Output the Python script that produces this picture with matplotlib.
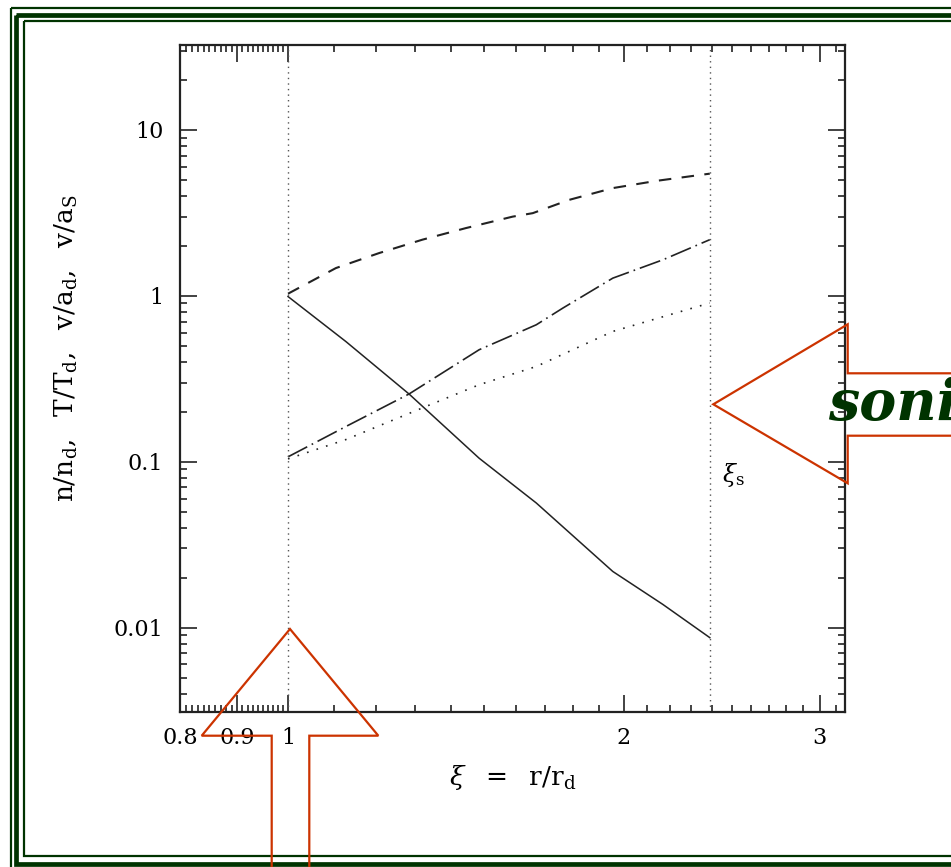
import numpy as np
import matplotlib
matplotlib.use('Agg')
import matplotlib.pyplot as plt
from matplotlib.patches import Rectangle, Polygon
from matplotlib.ticker import FixedLocator, FixedFormatter

# profiles (xi = r/r_d)
xi_n = [1.0, 1.127, 1.284, 1.484, 1.670, 1.956, 2.169, 2.39]
n_nd = [0.99, 0.53, 0.256, 0.105, 0.0564, 0.0218, 0.0138, 0.0087]

xi_T = [1.0, 1.104, 1.207, 1.320, 1.444, 1.590, 1.658, 1.788, 1.956, 2.140, 2.39]
T_Td = [1.03, 1.47, 1.81, 2.18, 2.56, 3.00, 3.15, 3.79, 4.46, 4.93, 5.45]

xi_vd = [1.0, 1.127, 1.284, 1.484, 1.670, 1.764, 1.956, 2.169, 2.39]
v_ad = [0.107, 0.163, 0.256, 0.473, 0.669, 0.843, 1.278, 1.648, 2.18]

xi_vs = [1.0, 1.127, 1.320, 1.484, 1.670, 1.956, 2.39]
v_as = [0.104, 0.136, 0.211, 0.291, 0.375, 0.610, 0.905]

xi_d = 1.0     # inner boundary
xi_s = 2.39    # sonic point

xticks = [0.8, 0.9, 1, 2, 3]
xticklabels = ['0.8', '0.9', '1', '2', '3']
yticks = [0.01, 0.1, 1, 10]
yticklabels = ['0.01', '0.1', '1', '10']

plt.rcParams['font.family'] = 'DejaVu Serif'
plt.rcParams['mathtext.fontset'] = 'dejavuserif'

W, H = 951, 867
fig = plt.figure(figsize=(W / 100, H / 100), dpi=100)
ax = fig.add_axes([180 / W, 1 - 712 / H, 665 / W, 667 / H])

ax.set_xscale('log')
ax.set_yscale('log')
ax.set_xlim(0.8, 3.16)
ax.set_ylim(0.0031, 32.5)

ax.plot(xi_n, n_nd, color='#222222', lw=1.1, ls='-')
ax.plot(xi_T, T_Td, color='#222222', lw=1.5, ls=(0, (6, 5)))
ax.plot(xi_vd, v_ad, color='#222222', lw=1.2, ls=(0, (13, 3, 1, 3)))
ax.plot(xi_vs, v_as, color='#222222', lw=1.2, ls=(0, (1, 5)))

for xv in (xi_d, xi_s):
    ax.axvline(xv, color='#555555', lw=1.0, ls=(0, (1, 3)))

ax.text(2.45, 0.083, r'$\xi_{\rm s}$', fontsize=17, ha='left', va='center')

ax.xaxis.set_major_locator(FixedLocator(xticks))
ax.xaxis.set_major_formatter(FixedFormatter(xticklabels))
xminor = [x for x in np.round(np.arange(0.81, 1.0, 0.01), 2) if x != 0.9]
xminor += [x for x in np.round(np.arange(1.1, 3.2, 0.1), 1) if x not in (2.0, 3.0)]
ax.xaxis.set_minor_locator(FixedLocator(xminor))
ax.xaxis.set_minor_formatter(FixedFormatter([''] * len(xminor)))

ax.yaxis.set_major_locator(FixedLocator(yticks))
ax.yaxis.set_major_formatter(FixedFormatter(yticklabels))
yminor = [m * 10.0 ** e for e in range(-3, 2) for m in range(2, 10)]
ax.yaxis.set_minor_locator(FixedLocator(yminor))
ax.yaxis.set_minor_formatter(FixedFormatter([''] * len(yminor)))

ax.tick_params(which='both', direction='in', top=True, right=True,
               labelsize=16, width=1.2, color='#222222')
ax.tick_params(which='major', length=12)
ax.tick_params(which='minor', length=5)
ax.tick_params(axis='x', which='major', pad=11)
ax.tick_params(axis='y', which='major', pad=12)
for s in ax.spines.values():
    s.set_linewidth(1.6)
    s.set_color('#222222')

ax.set_xlabel(r'$\xi\ \ =\ \ \mathrm{r/r_d}$', fontsize=19, labelpad=10)
ax.set_ylabel(r'$\mathrm{n/n_d,\ \ T/T_d,\ \ v/a_d,\ \ v/a_S}$', fontsize=19)
ax.yaxis.set_label_coords(-0.15, 0.545)

# overlay in pixel coordinates: slide frame, arrows, caption
ov = fig.add_axes([0, 0, 1, 1], zorder=5)
ov.set_xlim(0, W)
ov.set_ylim(H, 0)
ov.axis('off')
ov.patch.set_alpha(0)

green = '#003300'
ov.add_patch(Rectangle((11, 8), 1200, 1200, fill=False, ec=green, lw=1.6))
ov.add_patch(Rectangle((15.5, 14.5), 1200, 849.5, fill=False, ec=green, lw=3.4))
ov.add_patch(Rectangle((24, 21), 1200, 835, fill=False, ec=green, lw=1.6))

red = '#cc3300'
up_arrow = [(271.7, 880), (271.7, 735.7), (201.7, 735.7), (290, 629),
            (378.3, 735.7), (309.3, 735.7), (309.3, 880)]
ov.add_patch(Polygon(up_arrow, closed=False, fill=False, ec=red, lw=1.6))
left_arrow = [(1000, 373.3), (847.7, 373.3), (847.7, 324.3), (713.3, 404.3),
              (847.7, 483.3), (847.7, 435.7), (1000, 435.7)]
ov.add_patch(Polygon(left_arrow, closed=False, fill=False, ec=red, lw=1.6))

ov.text(828, 420, 'sonic point', color=green, fontsize=40,
        family='DejaVu Serif', weight='bold', style='italic',
        ha='left', va='baseline')

fig.savefig('out.png', dpi=100, facecolor='white')
